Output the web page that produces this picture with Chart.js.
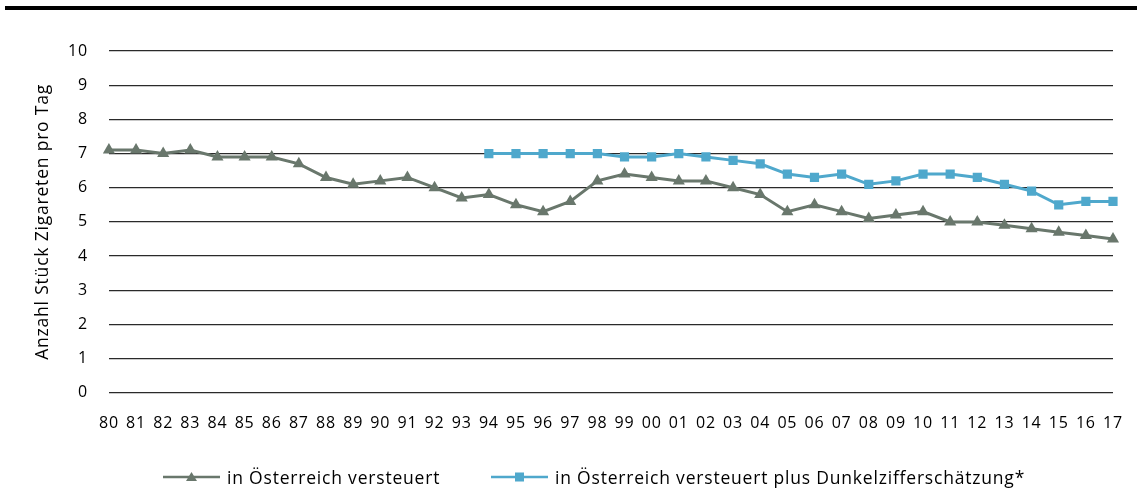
<!DOCTYPE html>
<html>
<head>
<meta charset="utf-8">
<script src="https://cdn.jsdelivr.net/npm/chart.js@4"></script>
<style>
  body { margin: 0; background: #fff; }
  #wrap { position: relative; width: 1137px; height: 488px; }
  #topbar { position: absolute; left: 5px; right: 0; top: 6px; height: 4px; background: #000; }
  .leg { position: absolute; top: 466px; height: 22px; display: flex; align-items: center;
         font-family: 'Open Sans', sans-serif; font-size: 17.5px; letter-spacing: 0.8px; color: #000; white-space: nowrap; }
  .leg canvas { margin-right: 7px; }
</style>
</head>
<body>
<div id="wrap">
  <div id="topbar"></div>
  <canvas id="chart" width="1137" height="488"></canvas>
  <div class="leg" id="leg0" style="left:163px"></div>
  <div class="leg" id="leg1" style="left:491px"></div>
</div>
<script>
const years = ['80','81','82','83','84','85','86','87','88','89','90','91','92','93','94','95','96','97','98','99',
               '00','01','02','03','04','05','06','07','08','09','10','11','12','13','14','15','16','17'];

const taxed = [7.1, 7.1, 7.0, 7.1, 6.9, 6.9, 6.9, 6.7, 6.3, 6.1, 6.2, 6.3, 6.0, 5.7, 5.8, 5.5, 5.3, 5.6, 6.2, 6.4,
               6.3, 6.2, 6.2, 6.0, 5.8, 5.3, 5.5, 5.3, 5.1, 5.2, 5.3, 5.0, 5.0, 4.9, 4.8, 4.7, 4.6, 4.5];

const taxedPlusDark = [null, null, null, null, null, null, null, null, null, null, null, null, null, null,
               7.0, 7.0, 7.0, 7.0, 7.0, 6.9, 6.9, 7.0, 6.9, 6.8, 6.7, 6.4, 6.3, 6.4, 6.1, 6.2, 6.4, 6.4, 6.3, 6.1, 5.9, 5.5, 5.6, 5.6];

const seriesNames = ['in Österreich versteuert', 'in Österreich versteuert plus Dunkelzifferschätzung*'];

const GRAY = '#69776c';
const BLUE = '#4fa8cc';
const FONT = "'Open Sans', sans-serif";

// legend symbol: line with marker in the middle
function legendIcon(color, shape){
    const c = document.createElement('canvas');
    c.width = 57; c.height = 14;
    const g = c.getContext('2d');
    g.strokeStyle = color;
    g.lineWidth = 2.5;
    g.beginPath(); g.moveTo(0, 7); g.lineTo(57, 7); g.stroke();
    g.fillStyle = color;
    if(shape === 'triangle'){
        g.beginPath(); g.moveTo(28.5, 2); g.lineTo(34, 11); g.lineTo(23, 11); g.closePath(); g.fill();
    } else {
        g.fillRect(24, 2.5, 9, 9);
    }
    return c;
}

// HTML legend
[['leg0', GRAY, 'triangle'], ['leg1', BLUE, 'rect']].forEach(([id, color, shape], i) => {
    const el = document.getElementById(id);
    el.appendChild(legendIcon(color, shape));
    const span = document.createElement('span');
    span.textContent = seriesNames[i];
    el.appendChild(span);
});

// wider letter spacing, like the original typesetting
const spacing = {
    id: 'spacing',
    beforeUpdate(chart){ chart.ctx.letterSpacing = '0.8px'; },
    beforeDraw(chart){ chart.ctx.letterSpacing = '0.8px'; }
};

const ctx = document.getElementById('chart');

new Chart(ctx, {
    type: 'line',
    data: {
        labels: years,
        datasets: [{
            label: seriesNames[0],
            data: taxed,
            borderColor: GRAY,
            backgroundColor: GRAY,
            borderWidth: 3,
            pointStyle: 'triangle',
            pointRadius: 7,
            pointBorderWidth: 0,
            tension: 0
        }, {
            label: seriesNames[1],
            data: taxedPlusDark,
            borderColor: BLUE,
            backgroundColor: BLUE,
            borderWidth: 3,
            pointStyle: 'rect',
            pointRadius: 6.5,
            pointBorderWidth: 0,
            tension: 0
        }]
    },
    plugins: [spacing],
    options: {
        responsive: false,
        animation: false,
        layout: { padding: { top: 51, right: 24, left: 33, bottom: 42 } },
        plugins: {
            tooltip: { enabled: false },
            legend: { display: false }
        },
        scales: {
            x: {
                offset: false,
                grid: { display: false },
                border: { display: false },
                ticks: { color: '#000', font: { family: FONT, size: 16 }, maxRotation: 0, autoSkip: false, padding: 13 }
            },
            y: {
                min: 0,
                max: 10,
                afterFit: scale => { scale.width -= 19; },
                grid: { color: '#2a2a2a', lineWidth: 1.3, drawTicks: false },
                border: { display: false },
                ticks: { stepSize: 1, color: '#000', font: { family: FONT, size: 16 }, padding: 21 },
                title: {
                    display: true,
                    text: 'Anzahl Stück Zigareten pro Tag',
                    color: '#000',
                    font: { family: FONT, size: 17.5 },
                    padding: { top: 0, bottom: 12 }
                }
            }
        }
    }
});
</script>
</body>
</html>
